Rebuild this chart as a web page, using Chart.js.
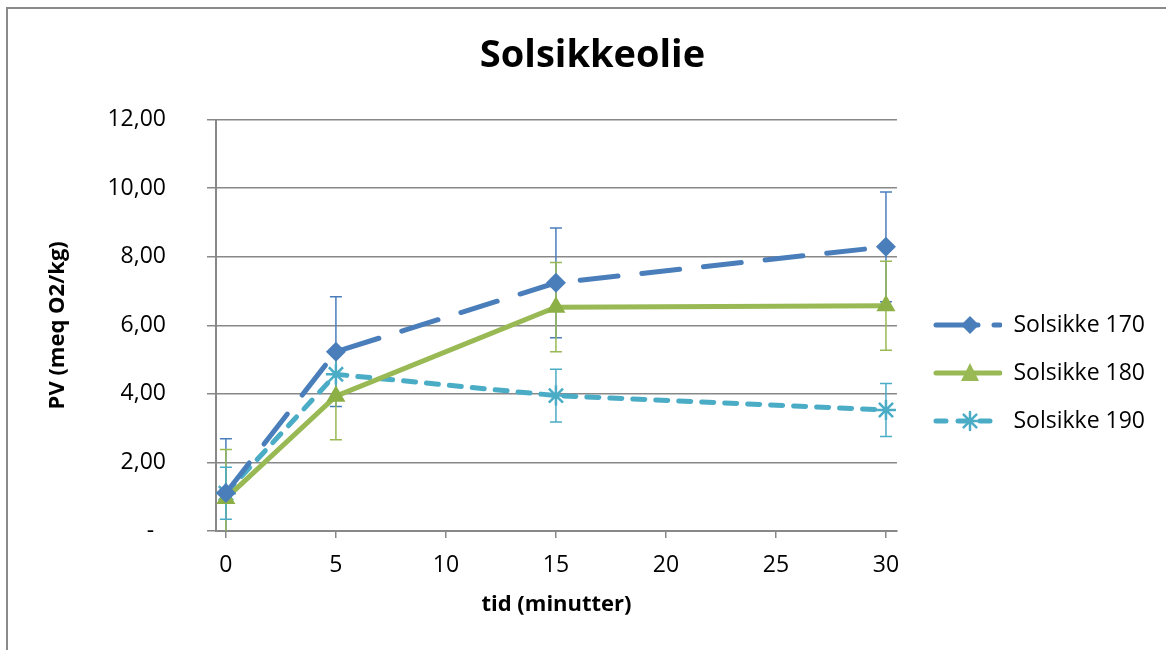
<!DOCTYPE html>
<html lang="da">
<head>
    <meta charset="UTF-8">
    <title>Solsikkeolie</title>
    <script src="https://cdn.jsdelivr.net/npm/chart.js"></script>
    <style>
        body { margin: 0; overflow: hidden; background: #fff; }
        #wrap { position: relative; width: 1166px; height: 650px; }
        #frame { position: absolute; left: 6px; top: 7px; width: 1300px; height: 800px;
                 border-left: 2px solid #8a8a8a; border-top: 2px solid #8a8a8a; }
        #pvChart { position: absolute; left: 0; top: 0; }
    </style>
</head>
<body>
<div id="wrap">
    <div id="frame"></div>
    <canvas id="pvChart" width="1166" height="650"></canvas>
</div>

<script>
    // tid (minutter)
    const times = [0, 5, 15, 30];

    // PV-værdier
    const s170 = [1.11, 5.23, 7.24, 8.29];
    const s180 = [0.95, 3.93, 6.53, 6.57];
    const s190 = [1.10, 4.57, 3.95, 3.53];

    // fejlbarer (+/-)
    const err170 = [1.58, 1.60, 1.60, 1.60];
    const err180 = [1.43, 1.27, 1.30, 1.30];
    const err190 = [0.76, 0.75, 0.77, 0.77];

    const seriesNames = ['Solsikke 170', 'Solsikke 180', 'Solsikke 190'];
    const yTicks = [0, 2, 4, 6, 8, 10, 12];

    const toPoints = vals => vals.map((v, i) => ({ x: times[i], y: v }));

    // lille billede til legenden: linje + markør
    function legendImage(color, dash, marker) {
        const c = document.createElement('canvas');
        c.width = 80; c.height = 26;
        const g = c.getContext('2d');
        g.strokeStyle = color;
        g.lineWidth = 5;
        g.lineCap = 'round';
        g.setLineDash(dash);
        g.beginPath(); g.moveTo(14, 13); g.lineTo(78, 13); g.stroke();
        g.setLineDash([]);
        const cx = 48, cy = 13;
        g.fillStyle = color;
        if (marker === 'diamond') {
            g.beginPath(); g.moveTo(cx, cy - 9); g.lineTo(cx + 9, cy); g.lineTo(cx, cy + 9); g.lineTo(cx - 9, cy); g.closePath(); g.fill();
        } else if (marker === 'triangle') {
            g.beginPath(); g.moveTo(cx, cy - 10); g.lineTo(cx + 9, cy + 8); g.lineTo(cx - 9, cy + 8); g.closePath(); g.fill();
        } else {
            g.lineWidth = 2.5;
            g.beginPath();
            for (let a = 0; a < 4; a++) {
                const r = a * Math.PI / 4;
                g.moveTo(cx - Math.cos(r) * 9, cy - Math.sin(r) * 9);
                g.lineTo(cx + Math.cos(r) * 9, cy + Math.sin(r) * 9);
            }
            g.stroke();
        }
        return c;
    }

    const legendImgs = [
        legendImage('#4a7ebb', [42, 16], 'diamond'),
        legendImage('#98b954', [], 'triangle'),
        legendImage('#4bacc6', [10, 12], 'star')
    ];

    const allErrors = [err170, err180, err190];

    // fejlbarer tegnes under linjerne
    const errorBars = {
        id: 'errorBars',
        beforeDatasetsDraw(chart) {
            const ctx = chart.ctx;
            const xs = chart.scales.x, ys = chart.scales.y;
            const area = chart.chartArea;
            ctx.save();
            ctx.beginPath();
            ctx.rect(area.left, area.top - 2, area.right - area.left, area.bottom - area.top + 2);
            ctx.clip();
            chart.data.datasets.forEach((ds, i) => {
                ctx.strokeStyle = ds.borderColor;
                ctx.lineWidth = 1.5;
                ds.data.forEach((p, j) => {
                    const e = allErrors[i][j];
                    const px = xs.getPixelForValue(p.x);
                    const top = ys.getPixelForValue(p.y + e);
                    const bot = ys.getPixelForValue(p.y - e);
                    ctx.beginPath();
                    ctx.moveTo(px, top); ctx.lineTo(px, bot);
                    ctx.moveTo(px - 6, top); ctx.lineTo(px + 6, top);
                    ctx.moveTo(px - 6, bot); ctx.lineTo(px + 6, bot);
                    ctx.stroke();
                });
            });
            ctx.restore();
        }
    };

    Chart.defaults.font.family = "'Open Sans', sans-serif";
    Chart.defaults.color = '#000';

    new Chart(document.getElementById('pvChart').getContext('2d'), {
        type: 'line',
        data: {
            datasets: [
                {
                    label: seriesNames[0],
                    data: toPoints(s170),
                    borderColor: '#4a7ebb',
                    backgroundColor: '#4a7ebb',
                    borderWidth: 5,
                    borderDash: [38, 24],
                    borderCapStyle: 'round',
                    pointStyle: 'rectRot',
                    pointRadius: 10,
                    pointBorderWidth: 0
                },
                {
                    label: seriesNames[1],
                    data: toPoints(s180),
                    borderColor: '#98b954',
                    backgroundColor: '#8db046',
                    borderWidth: 5,
                    borderCapStyle: 'round',
                    pointStyle: 'triangle',
                    pointRadius: 11,
                    pointBorderWidth: 0
                },
                {
                    label: seriesNames[2],
                    data: toPoints(s190),
                    borderColor: '#4bacc6',
                    backgroundColor: '#4bacc6',
                    borderWidth: 5,
                    borderDash: [12, 11],
                    borderCapStyle: 'round',
                    pointStyle: 'star',
                    pointRadius: 10,
                    pointBorderWidth: 2.5,
                    pointBorderColor: '#4bacc6'
                }
            ]
        },
        options: {
            responsive: false,
            animation: false,
            layout: { padding: { left: 30, right: 11, top: 0, bottom: 10 } },
            scales: {
                x: {
                    type: 'linear',
                    min: -0.45,
                    max: 30.5,
                    afterFit: scale => { scale.height = 109; },
                    ticks: {
                        stepSize: 5,
                        includeBounds: false,
                        padding: 14,
                        font: { size: 23 },
                        color: '#000'
                    },
                    grid: { drawOnChartArea: false, tickLength: 7, color: '#888', lineWidth: 1.5 },
                    border: { color: '#888', width: 2 },
                    title: {
                        display: true,
                        text: 'tid (minutter)',
                        font: { size: 22, weight: 'bold' },
                        color: '#000',
                        padding: { top: 12, bottom: 22 }
                    }
                },
                y: {
                    min: 0,
                    max: 12,
                    afterFit: scale => { scale.width = 186; },
                    afterBuildTicks: axis => { axis.ticks = yTicks.map(v => ({ value: v })); },
                    ticks: {
                        padding: 41,
                        font: { size: 23 },
                        color: '#000',
                        callback: v => v === 0 ? '-  ' : v.toFixed(2).replace('.', ',')
                    },
                    grid: { color: '#888', lineWidth: 1.5, tickLength: 9 },
                    border: { color: '#888', width: 2 },
                    title: {
                        display: true,
                        text: 'PV (meq O2/kg)',
                        font: { size: 22, weight: 'bold' },
                        color: '#000',
                        padding: { top: 15, bottom: 37 }
                    }
                }
            },
            plugins: {
                title: {
                    display: true,
                    text: 'Solsikkeolie',
                    font: { size: 38, weight: 'bold' },
                    color: '#000',
                    padding: { top: 33, bottom: 41 }
                },
                legend: {
                    position: 'right',
                    title: {
                        display: true,
                        text: ' ',
                        font: { size: 10 },
                        padding: { top: 0, bottom: 94 }
                    },
                    labels: {
                        usePointStyle: true,
                        pointStyleWidth: 80,
                        padding: 25,
                        font: { size: 23 },
                        color: '#000',
                        generateLabels: chart => chart.data.datasets.map((ds, i) => ({
                            text: ds.label,
                            pointStyle: legendImgs[i],
                            datasetIndex: i,
                            hidden: false,
                            fontColor: '#000',
                            lineWidth: 0,
                            strokeStyle: 'rgba(0,0,0,0)',
                            fillStyle: 'rgba(0,0,0,0)'
                        }))
                    }
                },
                tooltip: { enabled: false }
            }
        },
        plugins: [errorBars]
    });
</script>
</body>
</html>
